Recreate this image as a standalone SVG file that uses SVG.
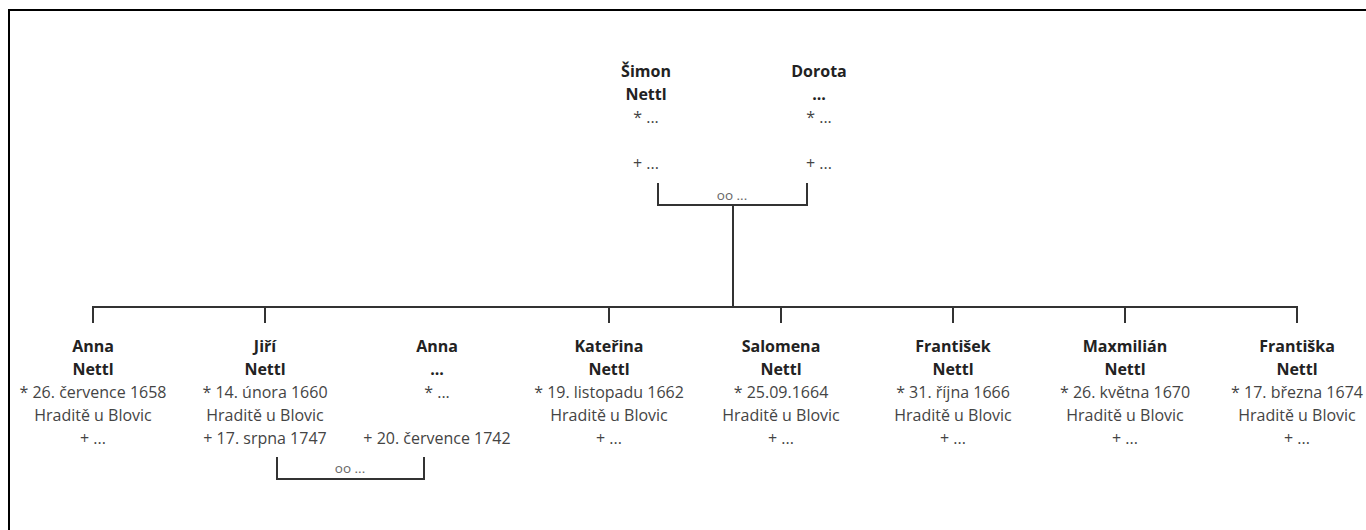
<svg xmlns="http://www.w3.org/2000/svg" width="1366" height="530" viewBox="0 0 1366 530">
<style>
.frame{fill:none;stroke:#000;stroke-width:2}
.ln{fill:none;stroke:#333;stroke-width:2}
text{font-family:"Open Sans","Liberation Sans",sans-serif;text-anchor:middle}
.nm{font-size:16px;font-weight:bold;fill:#222}
.tx{font-size:16px;fill:#444}
.mar{font-size:13.5px;fill:#666}
</style>
<rect width="1366" height="530" fill="#fff"/>
<rect class="frame" x="9" y="10" width="1400" height="560"/>
<g id="connectors">
<path class="ln" d="M658,183V205H807V183"/>
<path class="ln" d="M733,205V307"/>
<path class="ln" d="M93,323V307H1297V323"/>
<path class="ln" d="M265,307V323M609,307V323M781,307V323M953,307V323M1125,307V323"/>
<path class="ln" d="M277,457V479H424V457"/>
<text class="mar" x="732" y="200">oo ...</text>
<text class="mar" x="350" y="473">oo ...</text>
</g>
<g id="simon">
<text class="nm" x="646" y="77">Šimon</text>
<text class="nm" x="646" y="100">Nettl</text>
<text class="tx" x="646" y="123">* ...</text>
<text class="tx" x="646" y="169">+ ...</text>
</g>
<g id="dorota">
<text class="nm" x="819" y="77">Dorota</text>
<text class="nm" x="819" y="100">...</text>
<text class="tx" x="819" y="123">* ...</text>
<text class="tx" x="819" y="169">+ ...</text>
</g>
<g id="anna-nettl">
<text class="nm" x="93" y="352">Anna</text>
<text class="nm" x="93" y="375">Nettl</text>
<text class="tx" x="93" y="398">* 26. července 1658</text>
<text class="tx" x="93" y="421">Hraditě u Blovic</text>
<text class="tx" x="93" y="444">+ ...</text>
</g>
<g id="jiri">
<text class="nm" x="265" y="352">Jiří</text>
<text class="nm" x="265" y="375">Nettl</text>
<text class="tx" x="265" y="398">* 14. února 1660</text>
<text class="tx" x="265" y="421">Hraditě u Blovic</text>
<text class="tx" x="265" y="444">+ 17. srpna 1747</text>
</g>
<g id="anna-spouse">
<text class="nm" x="437" y="352">Anna</text>
<text class="nm" x="437" y="375">...</text>
<text class="tx" x="437" y="398">* ...</text>
<text class="tx" x="437" y="444">+ 20. července 1742</text>
</g>
<g id="katerina">
<text class="nm" x="609" y="352">Kateřina</text>
<text class="nm" x="609" y="375">Nettl</text>
<text class="tx" x="609" y="398">* 19. listopadu 1662</text>
<text class="tx" x="609" y="421">Hraditě u Blovic</text>
<text class="tx" x="609" y="444">+ ...</text>
</g>
<g id="salomena">
<text class="nm" x="781" y="352">Salomena</text>
<text class="nm" x="781" y="375">Nettl</text>
<text class="tx" x="781" y="398">* 25.09.1664</text>
<text class="tx" x="781" y="421">Hraditě u Blovic</text>
<text class="tx" x="781" y="444">+ ...</text>
</g>
<g id="frantisek">
<text class="nm" x="953" y="352">František</text>
<text class="nm" x="953" y="375">Nettl</text>
<text class="tx" x="953" y="398">* 31. října 1666</text>
<text class="tx" x="953" y="421">Hraditě u Blovic</text>
<text class="tx" x="953" y="444">+ ...</text>
</g>
<g id="maxmilian">
<text class="nm" x="1125" y="352">Maxmilián</text>
<text class="nm" x="1125" y="375">Nettl</text>
<text class="tx" x="1125" y="398">* 26. května 1670</text>
<text class="tx" x="1125" y="421">Hraditě u Blovic</text>
<text class="tx" x="1125" y="444">+ ...</text>
</g>
<g id="frantiska">
<text class="nm" x="1297" y="352">Františka</text>
<text class="nm" x="1297" y="375">Nettl</text>
<text class="tx" x="1297" y="398">* 17. března 1674</text>
<text class="tx" x="1297" y="421">Hraditě u Blovic</text>
<text class="tx" x="1297" y="444">+ ...</text>
</g>
</svg>
